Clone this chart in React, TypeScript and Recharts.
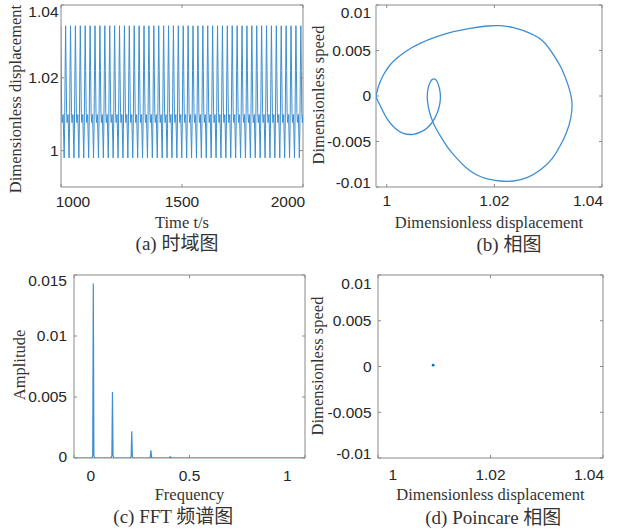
import React from 'react';
import { LineChart, Line, XAxis, YAxis, ReferenceArea, ScatterChart, Scatter } from 'recharts';

// (a) time history: one period, repeated over the run
const cycleShape = [0.998, 1.006, 1.022, 1.0343, 1.022, 1.0105, 1.0077, 1.009, 1.0099, 1.004];
const cyclePeriod = 20.25;
const firstCycleStart = 992.75;
const cycleCount = 51;
const timeTicks = [1000, 1500, 2000];
const dispTicks = [1, 1.02, 1.04];

// (b) phase portrait, one closed orbit
const phaseDisp = [
  0.998, 0.99844, 0.99937, 1.00061, 1.00186, 1.00372, 1.0062, 1.0093, 1.01239, 1.0155, 1.0186, 1.02108,
  1.02355, 1.02666, 1.02914, 1.0309, 1.0325, 1.0337, 1.0344, 1.0342, 1.0334, 1.0322, 1.0307,
  1.02852, 1.02605, 1.02355, 1.02108, 1.0187, 1.01674, 1.01488, 1.01302, 1.01146, 1.01023, 1.0093, 1.00856,
  1.00793, 1.00755, 1.00763, 1.00806, 1.00867, 1.0093, 1.00979, 1.00997, 1.00967, 1.00899, 1.00806, 1.00681,
  1.00495, 1.00309, 1.00154, 1.0, 0.99888, 0.99825, 0.998,
];
const phaseSpeed = [
  0, 0.00102, 0.00231, 0.00341, 0.00414, 0.00498, 0.00579, 0.00652, 0.00707, 0.00744, 0.00769, 0.00773,
  0.00751, 0.00689, 0.00597, 0.0046, 0.003, 0.0012, -0.0006, -0.0024, -0.004, -0.0055, -0.0069,
  -0.00813, -0.00898, -0.00934, -0.00934, -0.0091, -0.00868, -0.00795, -0.00685, -0.00575, -0.00465, -0.00374, -0.00282,
  -0.00173, -0.00044, 0.00066, 0.00151, 0.00187, 0.00165, 0.00085, -0.00025, -0.00135, -0.00238, -0.00319, -0.00381,
  -0.00421, -0.0041, -0.00355, -0.00245, -0.00118, -0.00044, 0,
];
const speedTicks = [-0.01, -0.005, 0, 0.005, 0.01];

// (c) FFT spectrum
const fftFreq = [0, 0.0775, 0.081, 0.0835, 0.086, 0.0895, 0.1605, 0.164, 0.1665, 0.169, 0.1725, 0.244, 0.2475, 0.25, 0.2525, 0.256, 0.327, 0.3305, 0.333, 0.3355, 0.339, 0.412, 0.4165, 0.421, 1];
const fftAmp = [0, 0, 0.0002, 0.0143, 0.0002, 0, 0, 0.0002, 0.0054, 0.0002, 0, 0, 0.00015, 0.0022, 0.00015, 0, 0, 0.0001, 0.00063, 0.0001, 0, 0, 0.00012, 0, 0];
const freqTicks = [0, 0.5, 1];
const ampTicks = [0, 0.005, 0.01, 0.015];

// (d) Poincare section
const poincareDisp = [1.0098];
const poincareSpeed = [0.00015];

const timeData: { t: number; x: number }[] = [];
for (let c = 0; c < cycleCount; c++) {
  cycleShape.forEach((x, i) => {
    timeData.push({ t: firstCycleStart + (c + i / cycleShape.length) * cyclePeriod, x });
  });
}
const phaseData = phaseDisp.map((x, i) => ({ x, v: phaseSpeed[i] }));
const fftData = fftFreq.map((f, i) => ({ f, a: fftAmp[i] }));
const poincareData = poincareDisp.map((x, i) => ({ x, v: poincareSpeed[i] }));

const lineColor = '#3d8fd1';
const boxColor = '#8a8a8a';
const tickFont = "'Liberation Sans', Arial, sans-serif";
const serifFont = "'Liberation Serif', 'Times New Roman', 'Noto Sans CJK SC', serif";

type Box = { left: number; right: number; top: number; bottom: number };

function BottomTick(props: any) {
  const { x, payload, box, shifts, gap } = props;
  const v = payload.value;
  const dx = shifts[String(v)] || 0;
  return (
    <g>
      <line x1={x} x2={x} y1={box.bottom} y2={box.bottom - 3} stroke={boxColor} />
      <line x1={x} x2={x} y1={box.top} y2={box.top + 3} stroke={boxColor} />
      <text x={x + dx} y={box.bottom + gap + 5.4} textAnchor="middle" fontFamily={tickFont} fontSize={15.5} fill="#262626">
        {String(v)}
      </text>
    </g>
  );
}

function LeftTick(props: any) {
  const { y, payload, box, shifts, gap } = props;
  const v = payload.value;
  const dy = shifts[String(v)] || 0;
  return (
    <g>
      <line x1={box.left} x2={box.left + 3} y1={y} y2={y} stroke={boxColor} />
      <line x1={box.right} x2={box.right - 3} y1={y} y2={y} stroke={boxColor} />
      <text x={box.left - gap} y={y + dy + 5.4} textAnchor="end" fontFamily={tickFont} fontSize={15.5} fill="#262626">
        {String(v)}
      </text>
    </g>
  );
}

function Title({ cx, cy, text, rotate, size = 16.5 }: { cx: number; cy: number; text: string; rotate?: boolean; size?: number }) {
  return (
    <div
      style={{
        position: 'absolute',
        left: cx,
        top: cy,
        transform: `translate(-50%, -50%)${rotate ? ' rotate(-90deg)' : ''}`,
        whiteSpace: 'nowrap',
        fontFamily: serifFont,
        fontSize: size,
        lineHeight: 1,
        color: '#333',
      }}
    >
      {text}
    </div>
  );
}

export default function App() {
  // plot boxes in local chart coordinates
  const boxA: Box = { left: 61, right: 303, top: 5, bottom: 187 };
  const boxB: Box = { left: 66, right: 292, top: 5, bottom: 187 };
  const boxC: Box = { left: 74, right: 305, top: 13, bottom: 196 };
  const boxD: Box = { left: 68, right: 293, top: 13, bottom: 196 };

  return (
    <div style={{ position: 'absolute', left: 0, top: 0, width: 617, height: 530, background: '#fff', overflow: 'hidden' }}>
      {/* (a) */}
      <div style={{ position: 'absolute', left: 0, top: 0 }}>
        <LineChart width={310} height={260} data={timeData} margin={{ top: 5, right: 7, bottom: 0, left: 0 }}>
          <XAxis
            dataKey="t"
            type="number"
            domain={[1000, 2000]}
            ticks={timeTicks}
            allowDataOverflow
            interval={0}
            height={73}
            axisLine={false}
            tickLine={false}
            tick={(p: any) => <BottomTick {...p} box={boxA} gap={14.5} shifts={{ '1000': 12, '2000': -15 }} />}
          />
          <YAxis
            type="number"
            domain={[0.99, 1.04]}
            ticks={dispTicks}
            allowDataOverflow
            interval={0}
            width={61}
            axisLine={false}
            tickLine={false}
            tick={(p: any) => <LeftTick {...p} box={boxA} gap={2.5} shifts={{ '1.04': 7 }} />}
          />
          <ReferenceArea x1={1000} x2={2000} y1={0.99} y2={1.04} fill="none" stroke={boxColor} strokeOpacity={1} />
          <Line dataKey="x" type="linear" stroke={lineColor} strokeWidth={1} dot={false} isAnimationActive={false} />
        </LineChart>
      </div>

      {/* (b) */}
      <div style={{ position: 'absolute', left: 310, top: 0 }}>
        <LineChart width={307} height={260} data={phaseData} margin={{ top: 5, right: 15, bottom: 0, left: 0 }}>
          <XAxis
            dataKey="x"
            type="number"
            domain={[0.998, 1.04]}
            ticks={dispTicks}
            allowDataOverflow
            interval={0}
            height={73}
            axisLine={false}
            tickLine={false}
            tick={(p: any) => <BottomTick {...p} box={boxB} gap={14} shifts={{ '1.04': -14 }} />}
          />
          <YAxis
            type="number"
            domain={[-0.01, 0.01]}
            ticks={speedTicks}
            allowDataOverflow
            interval={0}
            width={66}
            axisLine={false}
            tickLine={false}
            tick={(p: any) => <LeftTick {...p} box={boxB} gap={5} shifts={{ '0.01': 7.5, '-0.01': -4.3 }} />}
          />
          <ReferenceArea x1={0.998} x2={1.04} y1={-0.01} y2={0.01} fill="none" stroke={boxColor} strokeOpacity={1} />
          <Line dataKey="v" type="natural" stroke={lineColor} strokeWidth={1.3} dot={false} isAnimationActive={false} />
        </LineChart>
      </div>

      {/* (c) */}
      <div style={{ position: 'absolute', left: 0, top: 262 }}>
        <LineChart width={310} height={268} data={fftData} margin={{ top: 13, right: 5, bottom: 0, left: 0 }}>
          <XAxis
            dataKey="f"
            type="number"
            domain={[0, 1]}
            ticks={freqTicks}
            allowDataOverflow
            interval={0}
            height={72}
            axisLine={false}
            tickLine={false}
            tick={(p: any) => <BottomTick {...p} box={boxC} gap={17.8} shifts={{ '0': 16.7, '1': -17.7 }} />}
          />
          <YAxis
            type="number"
            domain={[0, 0.015]}
            ticks={ampTicks}
            allowDataOverflow
            interval={0}
            width={74}
            axisLine={false}
            tickLine={false}
            tick={(p: any) => <LeftTick {...p} box={boxC} gap={7} shifts={{ '0.015': 5.7, '0': -1.7 }} />}
          />
          <ReferenceArea x1={0} x2={1} y1={0} y2={0.015} fill="none" stroke={boxColor} strokeOpacity={1} />
          <Line dataKey="a" type="linear" stroke={lineColor} strokeWidth={1.2} dot={false} isAnimationActive={false} />
        </LineChart>
      </div>

      {/* (d) */}
      <div style={{ position: 'absolute', left: 310, top: 262 }}>
        <ScatterChart width={307} height={268} margin={{ top: 13, right: 14, bottom: 0, left: 0 }}>
          <XAxis
            dataKey="x"
            type="number"
            domain={[1, 1.04]}
            ticks={dispTicks}
            allowDataOverflow
            interval={0}
            height={72}
            axisLine={false}
            tickLine={false}
            tick={(p: any) => <BottomTick {...p} box={boxD} gap={16.3} shifts={{ '1': 14.7, '1.04': -14 }} />}
          />
          <YAxis
            dataKey="v"
            type="number"
            domain={[-0.01, 0.01]}
            ticks={speedTicks}
            allowDataOverflow
            interval={0}
            width={68}
            axisLine={false}
            tickLine={false}
            tick={(p: any) => <LeftTick {...p} box={boxD} gap={6.5} shifts={{ '0.01': 8.3, '-0.01': -4.4 }} />}
          />
          <ReferenceArea x1={1} x2={1.04} y1={-0.01} y2={0.01} fill="none" stroke={boxColor} strokeOpacity={1} />
          <Scatter
            data={poincareData}
            fill="#0072BD"
            isAnimationActive={false}
            shape={(p: any) => <circle cx={p.cx} cy={p.cy} r={1.4} fill="#0072BD" />}
          />
        </ScatterChart>
      </div>

      <Title cx={16.3} cy={99} text="Dimensionless displacement" rotate />
      <Title cx={182} cy={222.5} text="Time t/s" />
      <Title cx={177} cy={243} text="(a) 时域图" size={19} />

      <Title cx={319} cy={95} text="Dimensionless speed" rotate />
      <Title cx={489} cy={222.5} text="Dimensionless displacement" />
      <Title cx={509} cy={244} text="(b) 相图" size={19} />

      <Title cx={19.7} cy={365} text="Amplitude" rotate />
      <Title cx={189.5} cy={494.5} text="Frequency" />
      <Title cx={173.3} cy={516} text="(c) FFT 频谱图" size={19} />

      <Title cx={318} cy={366} text="Dimensionless speed" rotate />
      <Title cx={490.5} cy={494.5} text="Dimensionless displacement" />
      <Title cx={493.3} cy={516.5} text="(d) Poincare 相图" size={19} />
    </div>
  );
}
